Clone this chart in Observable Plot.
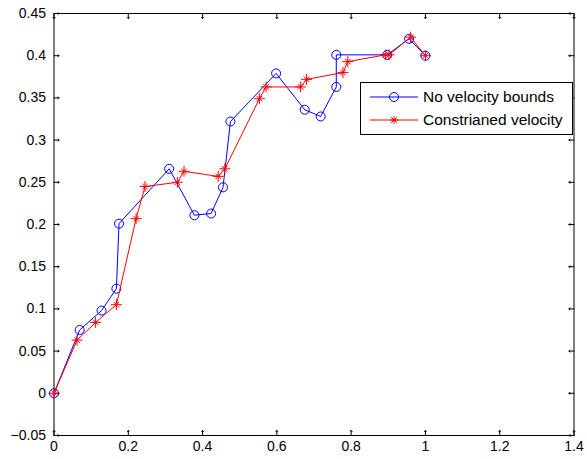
<!DOCTYPE html>
<html>
<head>
<meta charset="utf-8">
<script src="https://cdn.jsdelivr.net/npm/d3@7"></script>
<script src="https://cdn.jsdelivr.net/npm/@observablehq/plot@0.6"></script>
<style>
  body { margin: 0; background: #fff; }
  #wrap { position: relative; width: 587px; height: 459px; font-family: "Liberation Sans", Arial, sans-serif; }
  #legend { position: absolute; left: 360px; top: 82px; width: 211px; height: 51px; border: 1px solid #000; background: #fff; font-size: 15.5px; }
  .row { position: absolute; left: 0; height: 20px; display: flex; align-items: center; }
  .row svg { margin-left: 9px; }
  .row span { margin-left: 5px; white-space: nowrap; }
</style>
</head>
<body>
<div id="wrap"></div>
<script>
// Series: "No velocity bounds"
const blueX = [0, 0.069, 0.128, 0.168, 0.175, 0.31, 0.378, 0.423, 0.455, 0.475, 0.598, 0.675, 0.718, 0.76, 0.76, 0.897, 0.956, 1.0];
const blueY = [0, 0.075, 0.098, 0.124, 0.201, 0.266, 0.211, 0.213, 0.244, 0.322, 0.379, 0.336, 0.328, 0.363, 0.401, 0.401, 0.420, 0.400];
// Series: "Constrianed velocity"
const redX = [0, 0.062, 0.112, 0.168, 0.221, 0.245, 0.332, 0.35, 0.442, 0.46, 0.553, 0.571, 0.664, 0.68, 0.778, 0.791, 0.893, 0.902, 0.96, 1.0];
const redY = [0, 0.063, 0.084, 0.105, 0.207, 0.245, 0.250, 0.263, 0.257, 0.266, 0.349, 0.363, 0.363, 0.372, 0.380, 0.393, 0.401, 0.401, 0.422, 0.400];
const seriesNames = ["No velocity bounds", "Constrianed velocity"];
const xDomain = [0, 1.4];
const yDomain = [-0.05, 0.45];
const xTicks = [0, 0.2, 0.4, 0.6, 0.8, 1, 1.2, 1.4];
const yTicks = [-0.05, 0, 0.05, 0.1, 0.15, 0.2, 0.25, 0.3, 0.35, 0.4, 0.45];

const blue = blueX.map((x, i) => ({x, y: blueY[i]}));
const red = redX.map((x, i) => ({x, y: redY[i]}));
const fmt = d => String(d).replace("-", "\u2212");
const BLUE = "#0000ff", RED = "#ff0000";
const tk = {length: 5, anchor: "start", stroke: "#000", strokeWidth: 1};

const chart = Plot.plot({
  width: 587, height: 459,
  marginLeft: 53.5, marginRight: 13.5, marginTop: 13, marginBottom: 24,
  style: {fontFamily: "'Liberation Sans', Arial, sans-serif", background: "#fff"},
  x: {domain: xDomain},
  y: {domain: yDomain},
  marks: [
    Plot.axisX(xTicks, {anchor: "bottom", tickSize: 0, tickPadding: 6, tickFormat: fmt, fontSize: 14, fill: "#000", label: null}),
    Plot.axisY(yTicks, {anchor: "left", tickSize: 0, tickPadding: 8, tickFormat: fmt, fontSize: 14, fill: "#000", label: null}),
    Plot.vector(xTicks, {x: d => d, y: () => yDomain[0], rotate: 0, ...tk}),
    Plot.vector(xTicks, {x: d => d, y: () => yDomain[1], rotate: 180, ...tk}),
    Plot.vector(yTicks, {y: d => d, x: () => xDomain[0], rotate: 90, ...tk}),
    Plot.vector(yTicks, {y: d => d, x: () => xDomain[1], rotate: -90, ...tk}),
    Plot.frame({stroke: "#000", strokeWidth: 1}),
    Plot.line(blue, {x: "x", y: "y", stroke: BLUE, strokeWidth: 1}),
    Plot.dot(blue, {x: "x", y: "y", r: 4.5, stroke: BLUE, fill: "none", strokeWidth: 1}),
    Plot.line(red, {x: "x", y: "y", stroke: RED, strokeWidth: 1}),
    Plot.dot(red, {x: "x", y: "y", r: 3.6, symbol: "plus", stroke: RED, strokeWidth: 1}),
    Plot.dot(red, {x: "x", y: "y", r: 2.6, symbol: "times", stroke: RED, strokeWidth: 1})
  ]
});

const wrap = document.getElementById("wrap");
wrap.appendChild(chart);

const legend = document.createElement("div");
legend.id = "legend";
legend.innerHTML = `
  <div class="row" style="top:4px">
    <svg width="48" height="20"><line x1="0" y1="10" x2="48" y2="10" stroke="${BLUE}" stroke-width="1"/><circle cx="24" cy="10" r="4.5" fill="none" stroke="${BLUE}"/></svg>
    <span>${seriesNames[0]}</span>
  </div>
  <div class="row" style="top:27px">
    <svg width="48" height="20"><line x1="0" y1="10" x2="48" y2="10" stroke="${RED}" stroke-width="1"/>
      <path d="M24,6V14M20,10H28M21.2,7.2L26.8,12.8M21.2,12.8L26.8,7.2" stroke="${RED}" stroke-width="1" fill="none"/></svg>
    <span>${seriesNames[1]}</span>
  </div>`;
wrap.appendChild(legend);
</script>
</body>
</html>
